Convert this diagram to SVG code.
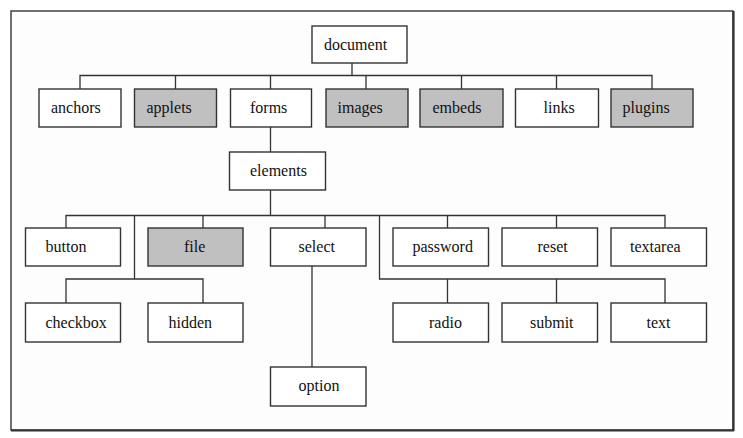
<svg xmlns="http://www.w3.org/2000/svg" width="743" height="438" viewBox="0 0 743 438">
<style>
.b{fill:#fff;stroke:#333;stroke-width:1.4}
.g{fill:#c0c0c0;stroke:#333;stroke-width:1.4}
.t{font-family:"Liberation Serif","Times New Roman",serif;font-size:16px;fill:#111}
.c{fill:none;stroke:#333;stroke-width:1.3}
</style>
<rect x="0" y="0" width="743" height="438" fill="#fff"/>
<rect x="11" y="11" width="722" height="419" fill="#fdfdfd" stroke="#333" stroke-width="1.4"/>
<path d="M733.5 11V431M11 430.5H734" stroke="#333" stroke-width="2.2" fill="none"/>
<g id="connectors" class="c">
<path d="M352 63V75.5M80 89V75.5H652V89M175.5 75.5V89M270.5 75.5V89M366 75.5V89M461.5 75.5V89M556.5 75.5V89"/>
<path d="M270.5 127V152"/>
<path d="M270.5 190V215.5M66 228V215.5H665V228M203 215.5V228M325 215.5V228M447.5 215.5V228M556.5 215.5V228"/>
<path d="M134.5 215.5V279M66 303V279H203V303"/>
<path d="M379.5 215.5V279H665V303M447.5 279V303M556.5 279V303"/>
<path d="M312 266V367"/>
</g>
<g id="document"><rect class="b" x="312" y="26" width="95" height="37"/><text class="t" x="324" y="49.5">document</text></g>
<g id="anchors"><rect class="b" x="39" y="89" width="82" height="38"/><text class="t" x="51" y="113">anchors</text></g>
<g id="applets"><rect class="g" x="134.5" y="89" width="82" height="38"/><text class="t" x="146.5" y="113">applets</text></g>
<g id="forms"><rect class="b" x="230.5" y="89" width="81" height="38"/><text class="t" x="250" y="113">forms</text></g>
<g id="images"><rect class="g" x="326" y="89" width="82" height="38"/><text class="t" x="337.5" y="113">images</text></g>
<g id="embeds"><rect class="g" x="420" y="89" width="83" height="38"/><text class="t" x="432.5" y="113">embeds</text></g>
<g id="links"><rect class="b" x="515.5" y="89" width="83" height="38"/><text class="t" x="543.5" y="113">links</text></g>
<g id="plugins"><rect class="g" x="611" y="89" width="82" height="38"/><text class="t" x="622.5" y="113">plugins</text></g>
<g id="elements"><rect class="b" x="229.5" y="152" width="96" height="38"/><text class="t" x="250" y="175.5">elements</text></g>
<g id="button"><rect class="b" x="25.5" y="228" width="95" height="38"/><text class="t" x="45.5" y="252">button</text></g>
<g id="file"><rect class="g" x="148" y="228" width="95" height="38"/><text class="t" x="184" y="252">file</text></g>
<g id="select"><rect class="b" x="270.5" y="228" width="95.5" height="38"/><text class="t" x="298.5" y="252">select</text></g>
<g id="password"><rect class="b" x="393" y="228" width="95.5" height="38"/><text class="t" x="412.5" y="252">password</text></g>
<g id="reset"><rect class="b" x="502" y="228" width="95.5" height="38"/><text class="t" x="537.5" y="252">reset</text></g>
<g id="textarea"><rect class="b" x="611" y="228" width="95.5" height="38"/><text class="t" x="630" y="252">textarea</text></g>
<g id="checkbox"><rect class="b" x="25.5" y="303" width="95" height="39"/><text class="t" x="45.5" y="328">checkbox</text></g>
<g id="hidden"><rect class="b" x="148" y="303" width="95" height="39"/><text class="t" x="168.5" y="328">hidden</text></g>
<g id="radio"><rect class="b" x="393" y="303" width="95.5" height="39"/><text class="t" x="429" y="328">radio</text></g>
<g id="submit"><rect class="b" x="502" y="303" width="95.5" height="39"/><text class="t" x="530" y="328">submit</text></g>
<g id="text"><rect class="b" x="611" y="303" width="95.5" height="39"/><text class="t" x="646.5" y="328">text</text></g>
<g id="option"><rect class="b" x="270.5" y="367" width="95.5" height="39"/><text class="t" x="298.5" y="391">option</text></g>
</svg>
